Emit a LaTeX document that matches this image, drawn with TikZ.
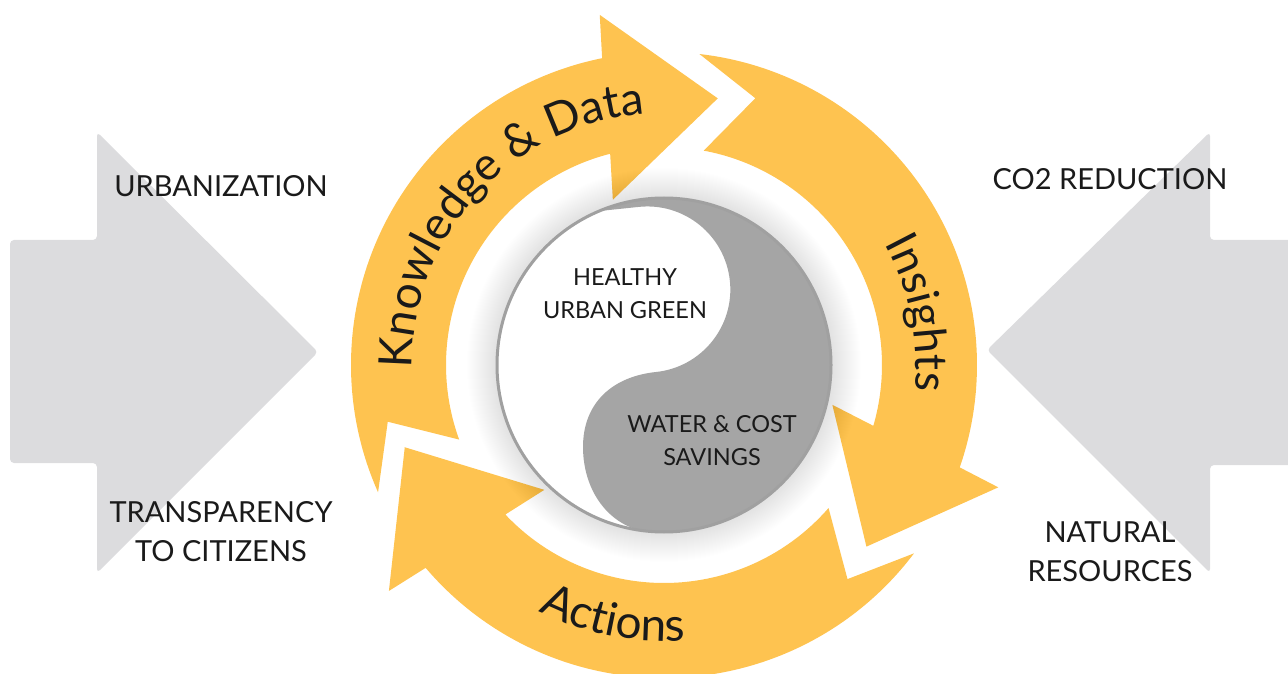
\documentclass[tikz,border=0pt]{standalone}
\usepackage{fontspec}
\setmainfont{Lato}
\usetikzlibrary{calc,decorations.text}
\definecolor{ringyellow}{HTML}{FEC350}
\definecolor{sidegray}{HTML}{DCDCDE}
\definecolor{yygray}{HTML}{A5A5A5}
\definecolor{yyborder}{HTML}{A0A0A0}
\definecolor{inktext}{HTML}{1A1A1A}

\begin{document}
\begin{tikzpicture}[x=1pt,y=1pt,
  sidearrow/.style={fill=sidegray, rounded corners=4pt},
  sidelabel/.style={inner sep=0pt, align=center, text=inktext, font=\fontsize{29}{39}\selectfont},
  corelabel/.style={inner sep=0pt, align=center, text=inktext, font=\fontsize{23.5}{33}\selectfont},
  ringtext/.style={decorate, decoration={text along path, text align=center, text color=inktext, text={#1}}},
  ringarrow/.pic={
    \fill[ringyellow] (204:313) arc[start angle=204, end angle=101.4, radius=313]
      -- (100.4:356) -- (78.6:272) -- (107.2:173) -- (104.3:218)
      arc[start angle=104.3, end angle=200, radius=218]
      -- (191.6:282) -- cycle;
  }
]
\clip (0,0) rectangle (1288,673);

% centre of the cycle and of the S-curve
\coordinate (C) at (664,308);
\coordinate (M) at (656,301);
\coordinate (Lb) at (583,226);
\coordinate (Q) at (660,140);

% grey side arrows
\fill[sidearrow] (10,433) -- (97,433) -- (97,541) -- (318,321) -- (97,100) -- (97,210) -- (10,210) -- cycle;
\fill[sidearrow] (1310,433) -- (1210,433) -- (1210,541) -- (987,323) -- (1210,100) -- (1210,208) -- (1310,208) -- cycle;

\node[sidelabel] (urb) at (221,487) {URBANIZATION};
\node[sidelabel] (trans) at (221,141.5) {TRANSPARENCY\\TO CITIZENS};
\node[sidelabel] (co2) at (1110,494) {CO2 REDUCTION};
\node[sidelabel] (nat) at (1110,121.5) {NATURAL\\RESOURCES};

% the three yellow cycle arrows
\pic at (C) {ringarrow};
\pic[rotate=-120.5] at (C) {ringarrow};
\pic[rotate=-241] at (C) {ringarrow};

% soft halo around the centre disc
\foreach \i in {0,...,29}
  \fill[black, opacity=0.0045] (C) circle ({168+\i});

% centre disc with S-curve
\fill[white] (C) circle (167);
\begin{scope}
  \clip (C) circle (167);
  \fill[yygray] ($(M)+(96:166)+(186:60)$) -- ($(M)+(96:166)$)
    arc[start angle=96, end angle=-84, radius=83]
    .. controls ($(M)+(186:44)$) and ($(Lb)+(0,44)$) .. (Lb)
    .. controls ($(Lb)+(0,-46)$) and ($(Q)+(-48,0)$) .. (Q)
    -- ++(60,-4) -- ++(0,-40) -- ++(300,0) -- ++(0,600)
    -- ($(M)+(96:166)+(186:60)+(0,100)$) -- cycle;
\end{scope}
\draw[yyborder, line width=3pt] (C) circle (167);

% labels on the arrows
\path[ringtext={|\fontsize{46}{46}\selectfont|Knowledge {\&} Data}]
  ($(C)+(190:252)$) arc[start angle=190, end angle=85, radius=252];
\path[ringtext={|\fontsize{45}{45}\selectfont|Insights}]
  ($(C)+(50:252)$) arc[start angle=50, end angle=-27, radius=252];
\path[ringtext={|\fontsize{46}{46}\selectfont|Actions}]
  ($(C)+(-140:276)$) arc[start angle=-140, end angle=-62.6, radius=276];

% labels in the disc
\node[corelabel] (green) at (625,379.5) {HEALTHY\\URBAN GREEN};
\node[corelabel] (water) at (712,232) {WATER \& COST\\SAVINGS};
\end{tikzpicture}
\end{document}
